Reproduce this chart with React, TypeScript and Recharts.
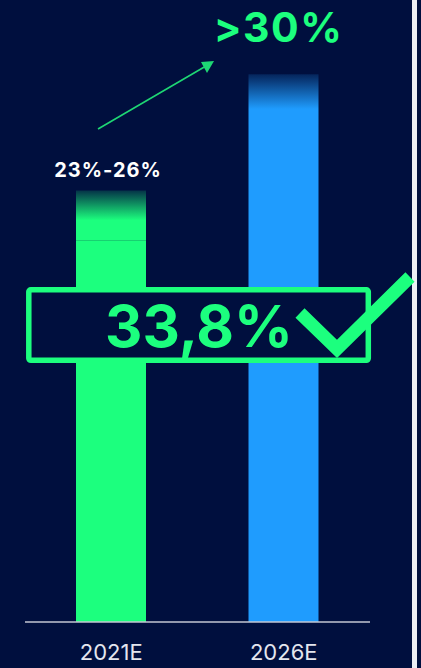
import { ComposedChart, Bar, Cell, XAxis, YAxis, LabelList } from 'recharts';

const years = ['2021E', '2026E'];
const baseShare = [23, 30];
const rangeShare = [3, 3];
const rangeLabels = ['23%-26%', '>30%'];
const headline = '33,8%';

const BG = '#000f3e';
const GREEN = '#1cff7e';
const BLUE = '#1f9cfe';
const barColors = [GREEN, BLUE];

const data = years.map((year, i) => ({
  year,
  base: baseShare[i],
  range: rangeShare[i],
}));

function RangeLabel(props: any) {
  const { x, y, width, index } = props;
  const cx = x + width / 2;
  if (index === 0) {
    return (
      <text
        x={cx - 3}
        y={y - 13}
        textAnchor="middle"
        fill="#ffffff"
        fontFamily="Inter, sans-serif"
        fontWeight={700}
        fontSize={20}
        letterSpacing={1}
      >
        {rangeLabels[index]}
      </text>
    );
  }
  return (
    <text
      x={cx - 5}
      y={y - 32}
      textAnchor="middle"
      fill={GREEN}
      fontFamily="Inter, sans-serif"
      fontWeight={700}
      fontSize={41}
      letterSpacing={1.5}
    >
      {rangeLabels[index]}
    </text>
  );
}

export default function App() {
  return (
    <div
      style={{
        position: 'absolute',
        left: 0,
        top: 0,
        width: 421,
        height: 668,
        background: BG,
        overflow: 'hidden',
      }}
    >
      <ComposedChart
        width={421}
        height={668}
        data={data}
        margin={{ top: 41, right: 51, bottom: 0, left: 25 }}
        barCategoryGap={0}
      >
        <defs>
          <linearGradient id="fadeGreen" x1="0" y1="0" x2="0" y2="1">
            <stop offset="0" stopColor={GREEN} stopOpacity={0.15} />
            <stop offset="0.6" stopColor={GREEN} stopOpacity={1} />
            <stop offset="1" stopColor={GREEN} stopOpacity={1} />
          </linearGradient>
          <linearGradient id="fadeBlue" x1="0" y1="0" x2="0" y2="1">
            <stop offset="0" stopColor={BLUE} stopOpacity={0.15} />
            <stop offset="0.7" stopColor={BLUE} stopOpacity={1} />
            <stop offset="1" stopColor={BLUE} stopOpacity={1} />
          </linearGradient>
        </defs>
        <XAxis
          dataKey="year"
          height={46}
          tickLine={false}
          tickMargin={16}
          axisLine={{ stroke: '#c3c7d3', strokeWidth: 1.5 }}
          tick={{ fill: '#e4e6ee', fontSize: 22, fontFamily: 'Inter, sans-serif' }}
        />
        <YAxis hide domain={[0, 35]} />
        <Bar dataKey="base" stackId="a" barSize={70} isAnimationActive={false}>
          {data.map((_, i) => (
            <Cell key={i} fill={barColors[i]} />
          ))}
        </Bar>
        <Bar dataKey="range" stackId="a" barSize={70} isAnimationActive={false}>
          {data.map((_, i) => (
            <Cell key={i} fill={i === 0 ? 'url(#fadeGreen)' : 'url(#fadeBlue)'} />
          ))}
          <LabelList dataKey="range" content={RangeLabel} />
        </Bar>
      </ComposedChart>
      <svg
        width={421}
        height={668}
        style={{ position: 'absolute', left: 0, top: 0, pointerEvents: 'none' }}
      >
        <rect x={412} y={0} width={5} height={668} fill="#eceef4" />
        <line x1={98} y1={129} x2={206} y2={66} stroke="#1ed774" strokeWidth={1.6} />
        <path d="M214,61 L201,62 L207,73 Z" fill="#1ed774" />
        <rect x={28.8} y={289.8} width={339.5} height={70.5} rx={2} fill={BG} stroke={GREEN} strokeWidth={5.5} />
        <text
          x={199}
          y={347}
          textAnchor="middle"
          fill={GREEN}
          fontFamily="Inter, sans-serif"
          fontWeight={700}
          fontSize={58}
        >
          {headline}
        </text>
        <polyline
          points="300,313 337,349 410,277"
          fill="none"
          stroke={GREEN}
          strokeWidth={13}
          strokeLinejoin="miter"
        />
      </svg>
    </div>
  );
}
